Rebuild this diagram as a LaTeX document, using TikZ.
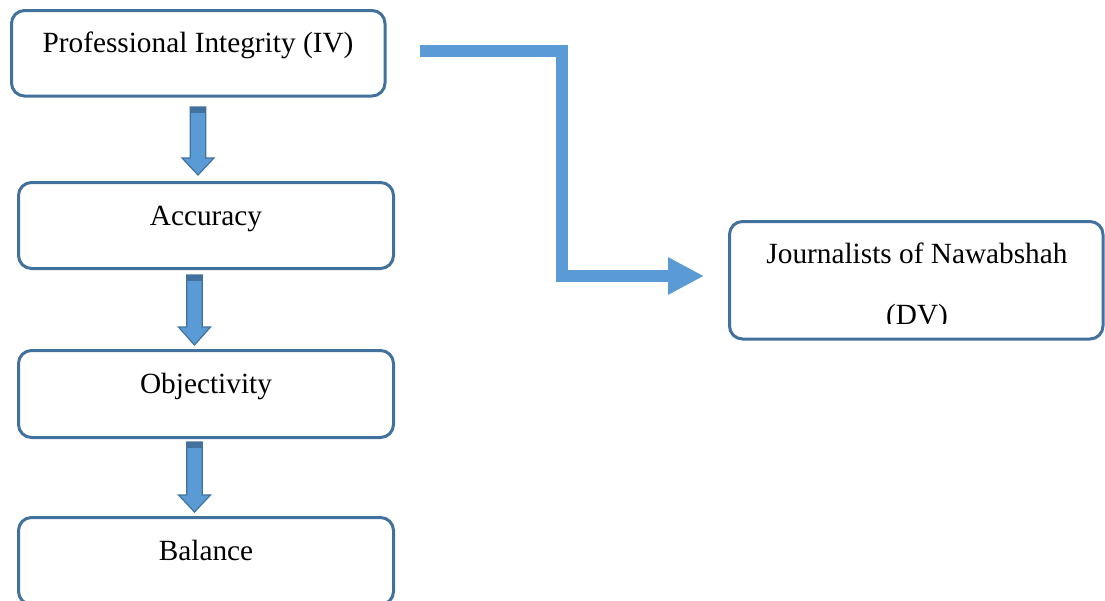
\documentclass[tikz,border=0pt]{standalone}
\usepackage{fontspec}
\setmainfont{Liberation Serif}
\usetikzlibrary{arrows.meta}
\definecolor{boxblue}{HTML}{41719C}
\definecolor{fillblue}{HTML}{5B9BD5}
\newcommand{\myblockarrow}[4]{%
  % #1 center x, #2 top y, #3 head start y, #4 tip y
  \fill[fillblue, draw=boxblue, line width=1.2pt, line join=miter]
    (#1-7.75,#2) -- (#1+7.75,#2) -- (#1+7.75,#3) -- (#1+16,#3) -- (#1,#4)
    -- (#1-16,#3) -- (#1-7.75,#3) -- cycle;
  \fill[boxblue] (#1-7.75,#2) rectangle (#1+7.75,#2+6);
}
\begin{document}
\begin{tikzpicture}[x=1pt,y=-1pt,
  boxstyle/.style={draw=boxblue, line width=3pt, rounded corners=13pt, fill=white, inner sep=0pt},
  labelstyle/.style={font=\fontsize{29.3}{35}\selectfont, anchor=base, inner sep=0pt, text=black},
  elbow/.style={draw=fillblue, line width=11.5pt, line cap=butt, line join=miter,
    -{Triangle[length=36pt,width=35pt]}}]
\useasboundingbox (0,0) rectangle (1105,600);
\clip (0,0) rectangle (1105,600);
% boxes
\node[boxstyle, minimum width=373.5pt, minimum height=85.5pt] (b1) at (198.25,53.25) {};
\node[boxstyle, minimum width=375pt, minimum height=86pt] (b2) at (206,225.5) {};
\node[boxstyle, minimum width=375pt, minimum height=87pt] (b3) at (206,394) {};
\node[boxstyle, minimum width=375pt, minimum height=87pt] (b4) at (206,561) {};
\node[boxstyle, minimum width=373.5pt, minimum height=117.5pt] (b5) at (916.25,280.25) {};
% labels
\node[labelstyle] (t1) at (198,52) {Professional Integrity (IV)};
\node[labelstyle] (t2) at (206,225.5) {Accuracy};
\node[labelstyle] (t3) at (206,393.5) {Objectivity};
\node[labelstyle] (t4) at (206,560) {Balance};
\node[labelstyle] (t5) at (917,263.5) {Journalists of Nawabshah};
\begin{scope}
  \clip (730,295) rectangle (1100,323);
  \node[labelstyle] (t6) at (917,324.5) {(DV)};
\end{scope}
% down arrows
\myblockarrow{198}{107}{158}{175}
\myblockarrow{194.5}{275}{327}{345}
\myblockarrow{194.5}{442}{495}{512}
% elbow arrow
\coordinate (s) at (420,51);
\coordinate (e) at (704,276);
\draw[elbow] (s) -- (562,51) |- (e);
\end{tikzpicture}
\end{document}
